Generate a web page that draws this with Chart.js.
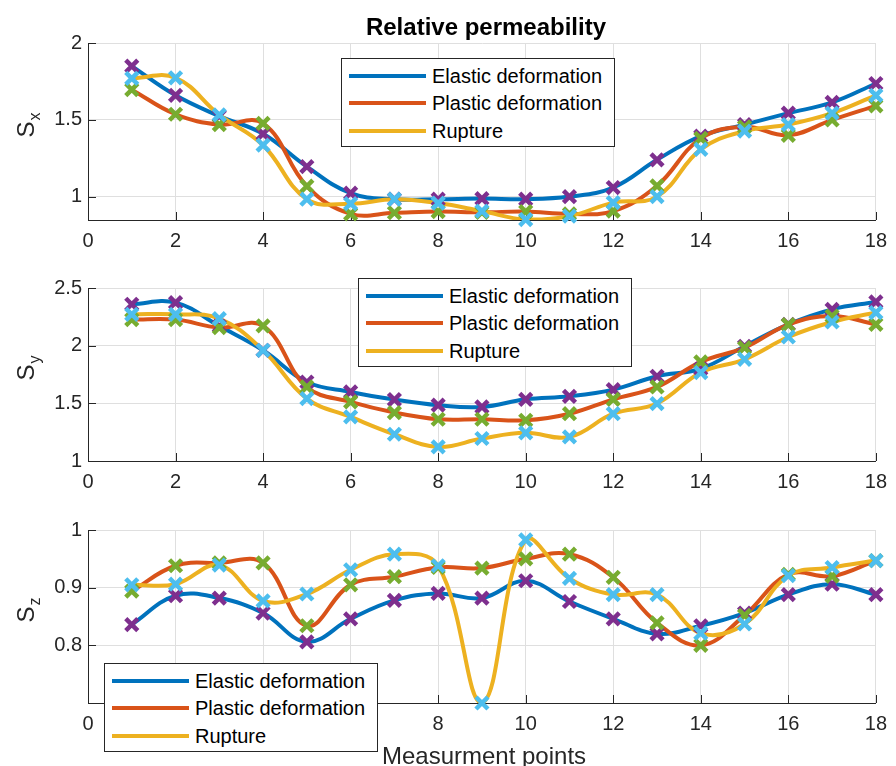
<!DOCTYPE html>
<html>
<head>
<meta charset="utf-8">
<script src="https://cdn.jsdelivr.net/npm/chart.js@4.4.1/dist/chart.umd.min.js"></script>
<style>
  html,body{margin:0;padding:0;background:#fff;}
  body{width:896px;height:766px;overflow:hidden;position:relative;font-family:"Liberation Sans",Arial,sans-serif;color:#262626;}
  canvas{position:absolute;left:0;}
  .title{position:absolute;left:286px;width:400px;top:15px;text-align:center;font-weight:bold;font-size:24px;line-height:24px;color:#000;}
  .xlab{position:absolute;left:284px;width:400px;top:744px;text-align:center;font-size:24px;line-height:24px;color:#262626;}
  .leg{position:absolute;width:274px;height:89px;box-sizing:border-box;border:1px solid #262626;background:#fff;}
  .row{position:absolute;left:0;width:272px;height:24px;line-height:24px;font-size:20px;color:#000;}
  .row .ln{position:absolute;left:7px;width:77px;top:10px;height:4px;}
  .row .tx{position:absolute;left:90px;top:0;white-space:nowrap;}
</style>
</head>
<body>
<canvas id="c1" width="896" height="260" style="top:0px"></canvas>
<canvas id="c2" width="896" height="240" style="top:260px"></canvas>
<canvas id="c3" width="896" height="266" style="top:500px"></canvas>
<div class="title">Relative permeability</div>
<div class="xlab">Measurment points</div>
<div id="leg1" class="leg" style="left:341px;top:58px"></div>
<div id="leg2" class="leg" style="left:358px;top:278px"></div>
<div id="leg3" class="leg" style="left:104px;top:663px"></div>
<script>
// ---- data ----
const categories = [1,2,3,4,5,6,7,8,9,10,11,12,13,14,15,16,17,18];
const xTicks = [0,2,4,6,8,10,12,14,16,18];
const seriesNames = ['Elastic deformation','Plastic deformation','Rupture'];
const axisNames = ['x','y','z'];

const sxElastic = [1.85,1.66,1.525,1.41,1.197,1.024,0.985,0.985,0.989,0.985,1.002,1.061,1.241,1.395,1.47,1.544,1.614,1.737];
const sxPlastic = [1.697,1.537,1.47,1.478,1.07,0.89,0.897,0.905,0.90,0.905,0.89,0.908,1.072,1.38,1.455,1.40,1.50,1.592];
const sxRupture = [1.77,1.774,1.533,1.336,0.985,0.956,0.985,0.96,0.908,0.853,0.875,0.963,1.002,1.309,1.428,1.47,1.544,1.66];

const syElastic = [2.359,2.373,2.17,1.96,1.685,1.599,1.533,1.484,1.469,1.535,1.561,1.619,1.735,1.80,1.995,2.185,2.315,2.379];
const syPlastic = [2.226,2.226,2.157,2.171,1.642,1.512,1.42,1.362,1.362,1.353,1.41,1.535,1.642,1.859,1.983,2.183,2.257,2.185];
const syRupture = [2.272,2.272,2.235,1.96,1.541,1.382,1.232,1.122,1.195,1.244,1.209,1.41,1.498,1.767,1.882,2.075,2.205,2.287];

const szElastic = [0.836,0.886,0.882,0.856,0.806,0.846,0.878,0.890,0.882,0.912,0.876,0.846,0.82,0.834,0.856,0.888,0.906,0.888];
const szPlastic = [0.894,0.938,0.943,0.943,0.834,0.905,0.919,0.935,0.934,0.95,0.958,0.918,0.839,0.80,0.852,0.923,0.92,0.947];
const szRupture = [0.905,0.906,0.939,0.877,0.889,0.931,0.958,0.938,0.70,0.983,0.916,0.888,0.888,0.821,0.837,0.921,0.935,0.947];

const sxTicks = [1,1.5,2];
const syTicks = [1,1.5,2,2.5];
const szTicks = [0.8,0.9,1];

const lineColors = ['#0072BD','#D95319','#EDB120'];
const markerColors = ['#7E2F8E','#77AC30','#4DBEEE'];

const FONT = '"Liberation Sans", Arial, sans-serif';
Chart.defaults.font.family = FONT;
Chart.defaults.color = '#262626';

const inwardTicks = {
  id: 'inwardTicks',
  beforeDatasetsDraw(chart) {
    const {ctx, chartArea: a, scales: {x, y}} = chart;
    ctx.save();
    ctx.strokeStyle = '#262626';
    ctx.lineWidth = 1;
    ctx.beginPath();
    x.ticks.forEach(t => {
      const px = Math.round(x.getPixelForValue(t.value)) + 0.5;
      ctx.moveTo(px, a.bottom); ctx.lineTo(px, a.bottom - 8);
    });
    y.ticks.forEach(t => {
      const py = Math.round(y.getPixelForValue(t.value)) + 0.5;
      ctx.moveTo(a.left, py); ctx.lineTo(a.left + 8, py);
    });
    ctx.stroke();
    ctx.restore();
  }
};

const yLabel = {
  id: 'yLabel',
  afterDraw(chart, args, opts) {
    const {ctx, chartArea: a} = chart;
    const yc = (a.top + a.bottom) / 2 - 6;
    ctx.save();
    ctx.translate(25.5, yc);
    ctx.rotate(-Math.PI / 2);
    ctx.fillStyle = '#262626';
    ctx.textBaseline = 'alphabetic';
    ctx.textAlign = 'left';
    ctx.font = '24px ' + FONT;
    const wS = ctx.measureText('S').width;
    ctx.font = '16px ' + FONT;
    const wSub = ctx.measureText(opts.sub).width;
    const x0 = -(wS + wSub) / 2;
    ctx.font = '24px ' + FONT;
    ctx.fillText('S', x0, 8.6);
    ctx.font = '16px ' + FONT;
    ctx.fillText(opts.sub, x0 + wS + 1, 14);
    ctx.restore();
  }
};

function makeChart(id, series, yMin, yMax, yTicks, padTop, xH, sub) {
  const datasets = [];
  series.forEach((vals, i) => {
    const pts = categories.map((c, k) => ({x: c, y: vals[k]}));
    datasets.push({
      label: seriesNames[i], data: pts,
      borderColor: lineColors[i], backgroundColor: lineColors[i],
      borderWidth: 4, pointRadius: 0, tension: 0.4, fill: false,
      borderCapStyle: 'round', borderJoinStyle: 'round',
      order: 5 - i
    });
  });
  series.forEach((vals, i) => {
    const pts = categories.map((c, k) => ({x: c, y: vals[k]}));
    datasets.push({
      label: seriesNames[i] + ' markers', data: pts, showLine: false,
      pointStyle: 'crossRot', pointRadius: 8.5, pointBorderWidth: 4.5,
      pointBorderColor: markerColors[i], pointBackgroundColor: markerColors[i],
      order: 2 - i, clip: false
    });
  });
  return new Chart(document.getElementById(id), {
    type: 'line',
    data: {datasets},
    plugins: [inwardTicks, yLabel],
    options: {
      responsive: false, animation: false, devicePixelRatio: 1, events: [],
      layout: {padding: {left: 0, right: 15, top: padTop, bottom: 0}},
      plugins: {legend: {display: false}, tooltip: {enabled: false}, title: {display: false}, yLabel: {sub: sub}},
      scales: {
        x: {
          type: 'linear', min: 0, max: 18,
          afterBuildTicks: s => { s.ticks = xTicks.map(v => ({value: v})); },
          afterFit: s => { s.height = xH; },
          ticks: {font: {size: 20}, color: '#262626', padding: 9, maxRotation: 0, autoSkip: false, callback: v => String(v)},
          grid: {color: '#dfdfdf', drawTicks: false, lineWidth: 1},
          border: {color: '#262626', width: 1}
        },
        y: {
          type: 'linear', min: yMin, max: yMax,
          afterBuildTicks: s => { s.ticks = yTicks.map(v => ({value: v})); },
          afterFit: s => { s.width = 88; },
          ticks: {font: {size: 20}, color: '#262626', padding: 6, autoSkip: false, callback: v => String(v)},
          grid: {color: '#dfdfdf', drawTicks: false, lineWidth: 1},
          border: {color: '#262626', width: 1}
        }
      }
    }
  });
}

makeChart('c1', [sxElastic, sxPlastic, sxRupture], 0.85, 2, sxTicks, 43, 40, axisNames[0]);
makeChart('c2', [syElastic, syPlastic, syRupture], 1, 2.5, syTicks, 28, 39, axisNames[1]);
makeChart('c3', [szElastic, szPlastic, szRupture], 0.7, 1, szTicks, 30, 63, axisNames[2]);

function buildLegend(elId) {
  const el = document.getElementById(elId);
  const offs = [17.5, 45, 72.5];
  seriesNames.forEach((name, i) => {
    const r = document.createElement('div');
    r.className = 'row';
    r.style.top = (offs[i] - 12 - 1) + 'px';
    const ln = document.createElement('span');
    ln.className = 'ln'; ln.style.background = lineColors[i];
    const tx = document.createElement('span');
    tx.className = 'tx'; tx.textContent = name;
    r.appendChild(ln); r.appendChild(tx);
    el.appendChild(r);
  });
}
buildLegend('leg1'); buildLegend('leg2'); buildLegend('leg3');
</script>
</body>
</html>
